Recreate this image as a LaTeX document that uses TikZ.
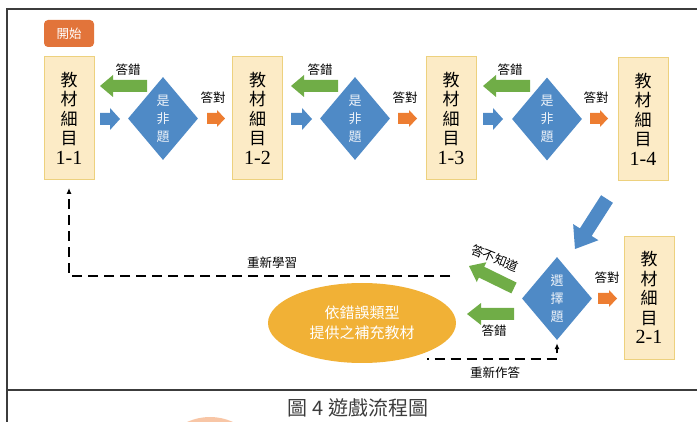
\documentclass[tikz,border=0pt]{standalone}
\usepackage{fontspec}
\setmainfont{Liberation Serif}
\newfontfamily\cjk{Noto Sans CJK TC}
\usetikzlibrary{shapes.geometric,calc,arrows.meta}
\definecolor{blueD}{HTML}{4F8AC6}
\definecolor{greenA}{HTML}{70AD47}
\definecolor{orangeA}{HTML}{ED7D31}
\definecolor{startO}{HTML}{E2743A}
\definecolor{boxF}{HTML}{FCEBC6}
\definecolor{boxB}{HTML}{EDD17E}
\definecolor{ellF}{HTML}{F1B136}
\definecolor{frameC}{HTML}{3C3C3C}
\definecolor{wmark}{HTML}{F8C6A6}
\definecolor{softW}{HTML}{EEF3F9}
% fat block arrow: #1 colour, #2 tail, #3 tip, #4 half shaft, #5 half head, #6 head length
\newcommand\fatarrow[6]{%
  \coordinate (fatH) at ($(#3)!#6!(#2)$);
  \fill[#1] ($(#2)!#4!90:(#3)$) -- ($(fatH)!#4!90:(#3)$) -- ($(fatH)!#5!90:(#3)$) -- (#3)
    -- ($(fatH)!#5!-90:(#3)$) -- ($(fatH)!#4!-90:(#3)$) -- ($(#2)!#4!-90:(#3)$) -- cycle;}
\begin{document}
\begin{tikzpicture}[x=1pt,y=-1pt,
  matbox/.style={draw=boxB, fill=boxF, line width=0.9pt, minimum width=50pt, minimum height=123pt,
    inner sep=0pt, align=center, font=\cjk\fontsize{17}{19.5}\selectfont},
  startbox/.style={fill=startO, rounded corners=4pt, minimum width=50pt, minimum height=27pt,
    inner sep=0pt, text=white, font=\cjk\fontsize{12.5}{14}\selectfont},
  qdiamond/.style={diamond, fill=blueD, minimum width=70pt, minimum height=83pt, inner sep=0pt, aspect=0.85},
  qtext/.style={align=center, text=softW, font=\cjk\fontsize{13}{18}\selectfont},
  lab/.style={font=\cjk\fontsize{12.5}{14}\selectfont, inner sep=0pt},
  dashline/.style={black, line width=1.3pt, dash pattern=on 10pt off 6pt},
  tipA/.style={-{Latex[length=6pt,width=5pt]}}
]
\useasboundingbox (0,0) rectangle (697,422);
\begin{scope}
  \clip (0,0) rectangle (697,422);
  \fill[wmark] (210,472) circle (55);
\end{scope}
% frame
\draw[frameC, line width=1.6pt] (7,422) -- (7,9) -- (697,9);
\draw[frameC, line width=1.6pt] (7,390) -- (697,390);

% start
\node[startbox] (start) at (69,33.5) {開始};

% material boxes
\node[matbox] (m11) at (69,118) {教\\材\\細\\目\\{\rmfamily\fontsize{20}{19.5}\selectfont 1-1}};
\node[matbox] (m12) at (257.5,118) {教\\材\\細\\目\\{\rmfamily\fontsize{20}{19.5}\selectfont 1-2}};
\node[matbox] (m13) at (451,118) {教\\材\\細\\目\\{\rmfamily\fontsize{20}{19.5}\selectfont 1-3}};
\node[matbox] (m14) at (643,119) {教\\材\\細\\目\\{\rmfamily\fontsize{20}{19.5}\selectfont 1-4}};
\node[matbox] (m21) at (649,297.5) {教\\材\\細\\目\\{\rmfamily\fontsize{20}{19.5}\selectfont 2-1}};

% diamonds
\node[qdiamond] (d1) at (163,118.5) {};
\node[qtext] (t1) at (d1) {是\\非\\題};
\node[qdiamond] (d2) at (355,118.5) {};
\node[qtext] (t2) at (d2) {是\\非\\題};
\node[qdiamond] (d3) at (547,119) {};
\node[qtext] (t3) at (d3) {是\\非\\題};
\node[qdiamond] (d4) at (557,298.5) {};
\node[qtext] (t4) at (d4) {選\\擇\\題};

% ellipse
\node[ellipse, fill=ellF, minimum width=188pt, minimum height=80pt, inner sep=0pt, align=center,
  text=white, font=\cjk\fontsize{15}{20}\selectfont] (ell) at (362,323) {依錯誤類型\\提供之補充教材};

% arrow end points
\coordinate (g1t) at (147,86);  \coordinate (g1h) at (100,86);
\coordinate (b1t) at (100,119); \coordinate (b1h) at (120,119);
\coordinate (o1t) at (207,118.5); \coordinate (o1h) at (225,118.5);
\coordinate (g2t) at (338,86);  \coordinate (g2h) at (291,86);
\coordinate (b2t) at (291,119); \coordinate (b2h) at (312,119);
\coordinate (o2t) at (398,118.5); \coordinate (o2h) at (417,118.5);
\coordinate (g3t) at (530,86);  \coordinate (g3h) at (483,86);
\coordinate (b3t) at (483,119); \coordinate (b3h) at (503,119);
\coordinate (o3t) at (590,118.5); \coordinate (o3h) at (608,118.5);
\coordinate (bigt) at (607,199); \coordinate (bigh) at (575,249);
\coordinate (o4t) at (598,298.5); \coordinate (o4h) at (617,298.5);
\coordinate (gkt) at (514,288); \coordinate (gkh) at (469,266);
\coordinate (gwt) at (514,314); \coordinate (gwh) at (467,314);

\fatarrow{greenA}{g1t}{g1h}{6pt}{11pt}{13pt}
\fatarrow{blueD}{b1t}{b1h}{6pt}{11pt}{10pt}
\fatarrow{orangeA}{o1t}{o1h}{5.5pt}{8.5pt}{8pt}
\fatarrow{greenA}{g2t}{g2h}{6pt}{11pt}{13pt}
\fatarrow{blueD}{b2t}{b2h}{6pt}{11pt}{10pt}
\fatarrow{orangeA}{o2t}{o2h}{5.5pt}{8.5pt}{8pt}
\fatarrow{greenA}{g3t}{g3h}{6pt}{11pt}{13pt}
\fatarrow{blueD}{b3t}{b3h}{6pt}{11pt}{10pt}
\fatarrow{orangeA}{o3t}{o3h}{5.5pt}{8.5pt}{8pt}
\fatarrow{blueD}{bigt}{bigh}{7pt}{15pt}{20pt}
\fatarrow{orangeA}{o4t}{o4h}{5.5pt}{8.5pt}{8pt}
\fatarrow{greenA}{gkt}{gkh}{6pt}{11pt}{14pt}
\fatarrow{greenA}{gwt}{gwh}{6pt}{11pt}{14pt}

% labels
\node[lab] (w1) at (128,70) {答錯};
\node[lab] (r1) at (213,98) {答對};
\node[lab] (w2) at (320,70) {答錯};
\node[lab] (r2) at (405,98) {答對};
\node[lab] (w3) at (510,70) {答錯};
\node[lab] (r3) at (596,98) {答對};
\node[lab] (r4) at (607,278) {答對};
\node[lab, rotate=-22] (dk) at (495,258) {答不知道};
\node[lab] (w4) at (494,331) {答錯};
\node[lab] (rl) at (272,263) {重新學習};
\node[lab] (rd) at (495,373) {重新作答};

% dashed connectors
\coordinate (relearnStart) at (450,276);
\draw[dashline, tipA] (relearnStart) -| ($(m11.south)+(0,8)$);
\coordinate (redoStart) at (427,359);
\draw[dashline, dash phase=8.5pt, tipA] (redoStart) -| ($(d4.south)+(0,3)$);

% caption
\node[font=\cjk\fontsize{20}{22}\selectfont, text=frameC, inner sep=0pt] (cap) at (358,408) {圖 4 遊戲流程圖};
\end{tikzpicture}
\end{document}
